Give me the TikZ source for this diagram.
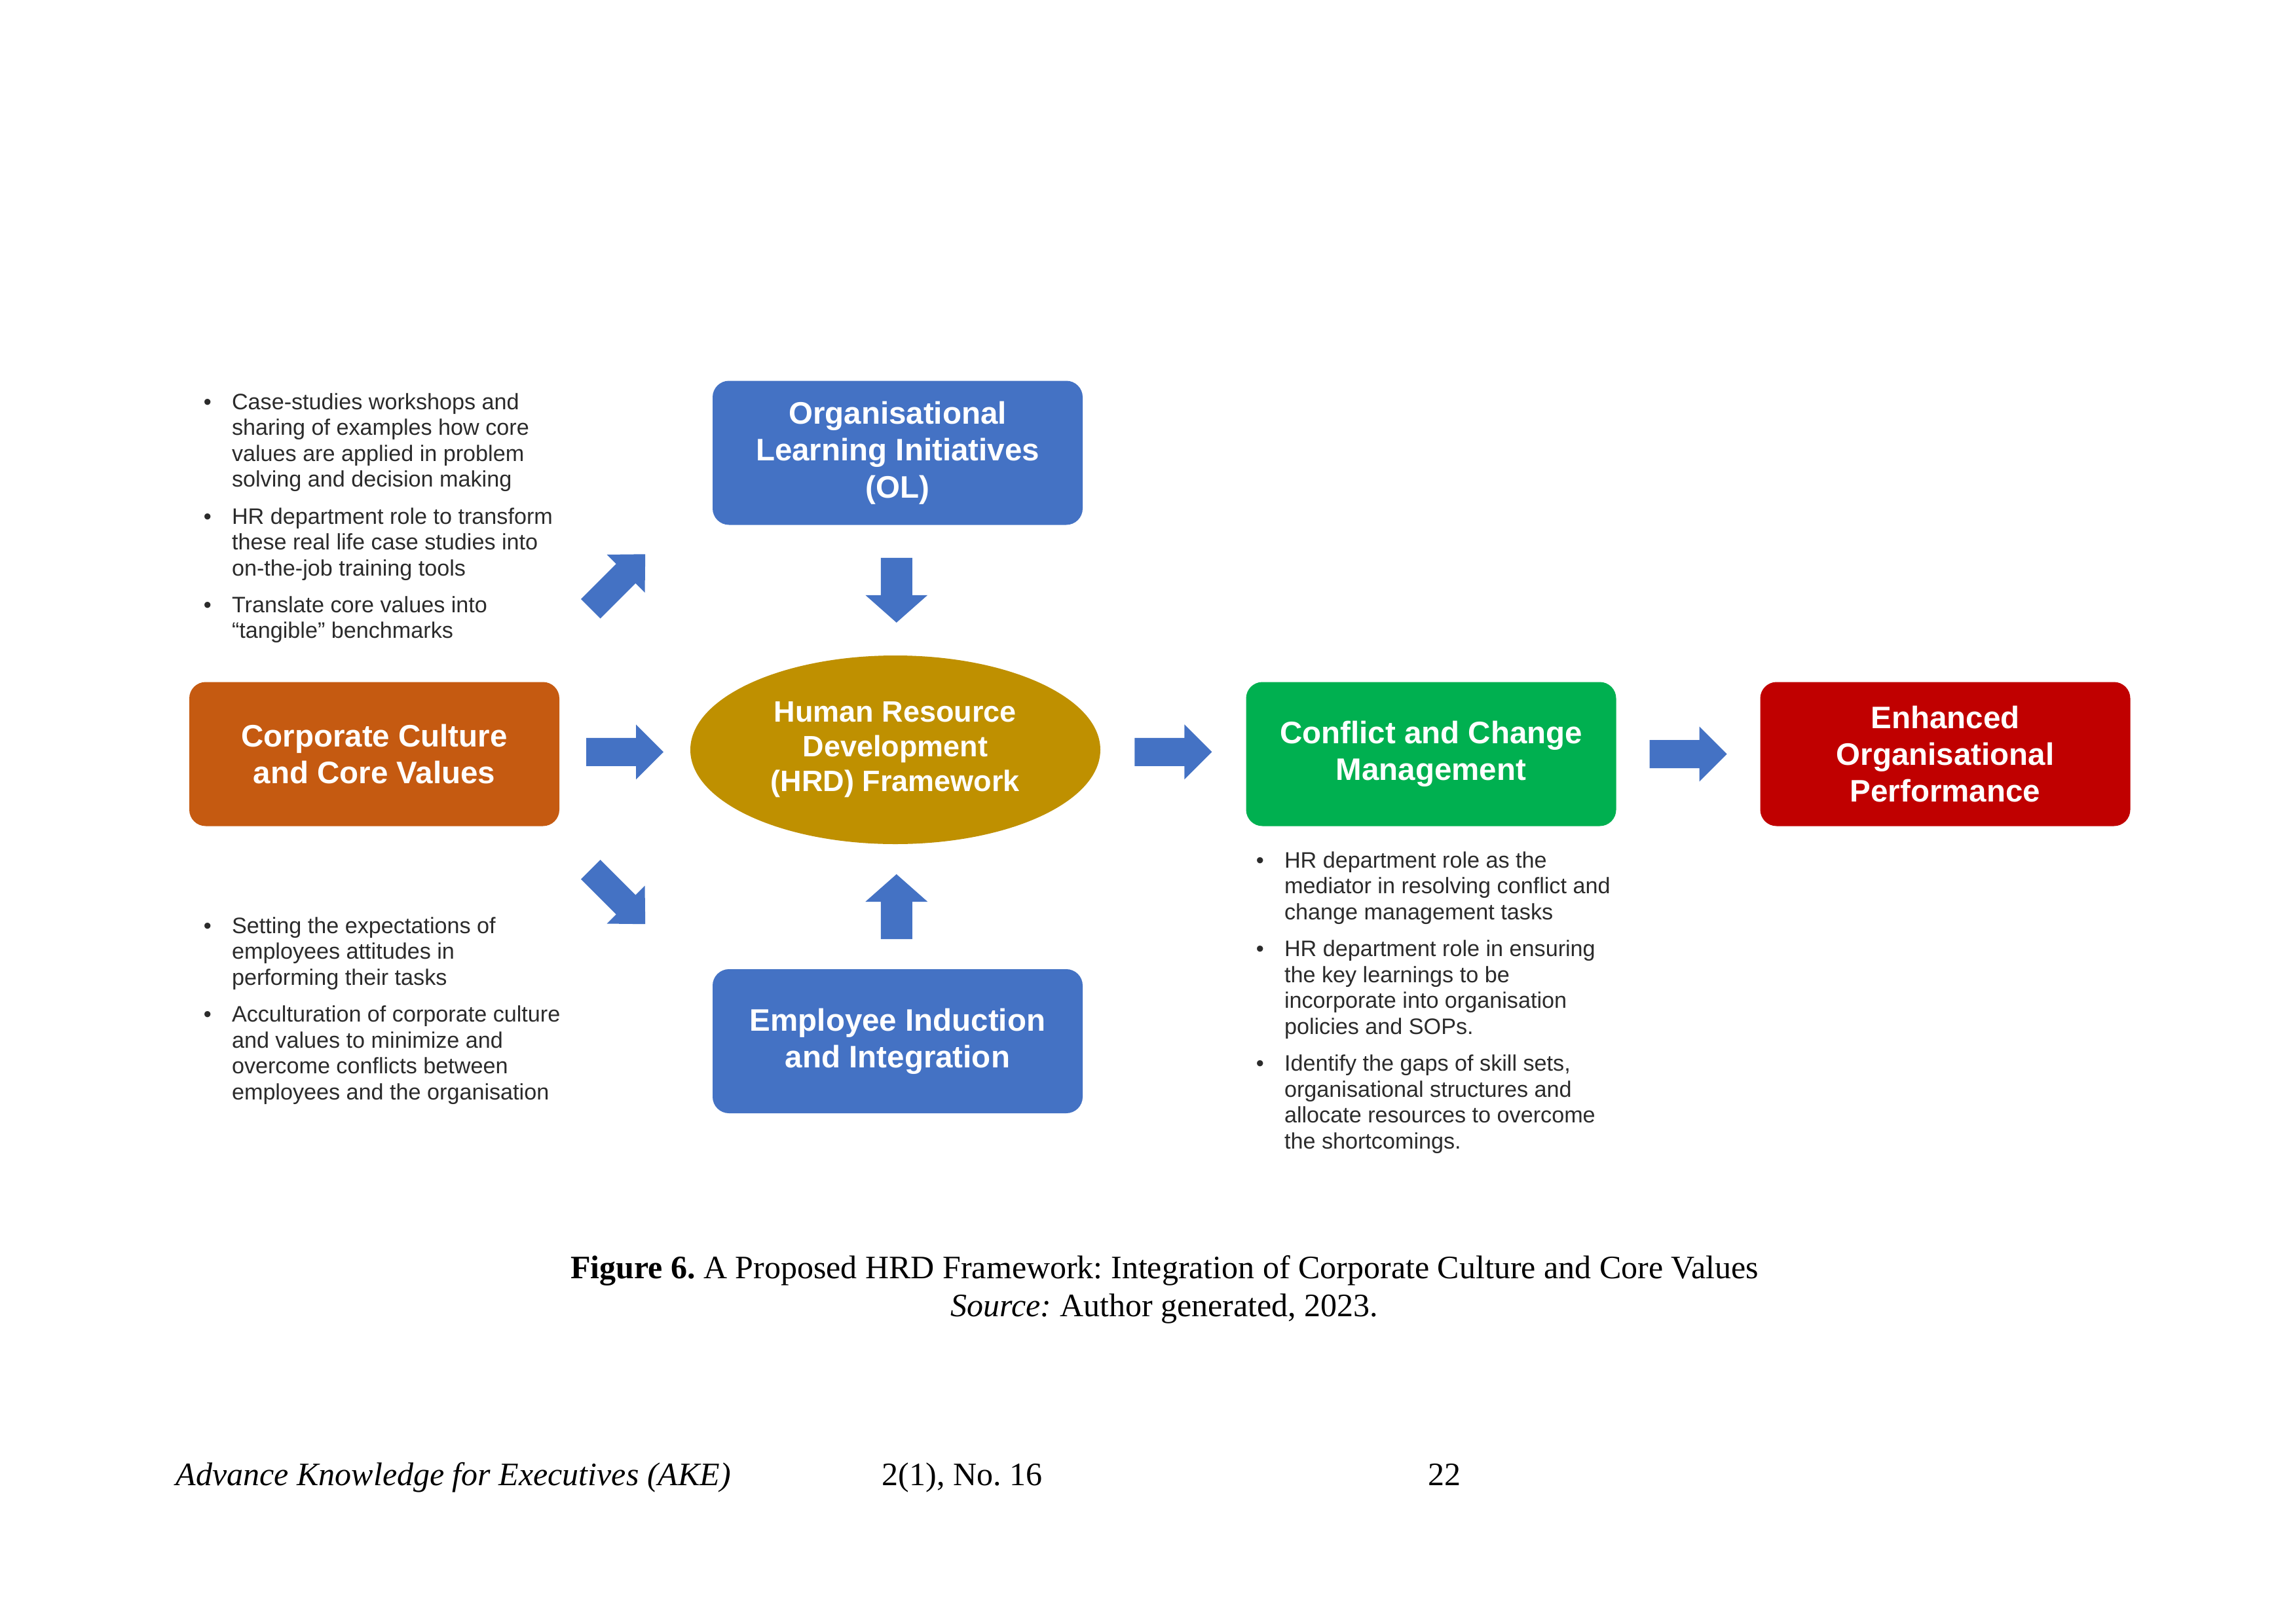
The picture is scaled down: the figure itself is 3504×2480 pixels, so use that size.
\documentclass[tikz,border=0pt]{standalone}
\usepackage{fontspec}
\setmainfont{Liberation Serif}
\newfontfamily\diagfont{Liberation Sans}
\usetikzlibrary{shapes.geometric,calc}
\frenchspacing
\definecolor{olblue}{HTML}{4472C4}
\definecolor{arrowblue}{HTML}{4472C4}
\definecolor{corporange}{HTML}{C55A11}
\definecolor{hrdgold}{HTML}{BF9000}
\definecolor{confgreen}{HTML}{00B050}
\definecolor{enhred}{HTML}{C00000}
\definecolor{bultext}{HTML}{2B2B2B}
\tikzset{
  box/.style={rounded corners=6pt, minimum width=565*0.24pt, minimum height=220*0.24pt,
    text=white, align=center, inner sep=0pt,
    font=\diagfont\bfseries\fontsize{11.4}{13.5}\selectfont},
  hrdnode/.style={ellipse, fill=hrdgold, minimum width=626*0.24pt, minimum height=288*0.24pt,
    text=white, align=center, inner sep=0pt,
    font=\diagfont\bfseries\fontsize{10.8}{12.7}\selectfont},
  bul/.style={inner sep=0pt, anchor=base west, text=bultext,
    font=\diagfont\fontsize{8.2}{9.5}\selectfont},
  captext/.style={inner sep=0pt, font=\fontsize{12}{14}\selectfont\frenchspacing},
  pics/barrow/.style n args={5}{code={
    \fill[arrowblue, rotate=#1]
      (-#2/2, -#4/2) -- (#2/2-#5, -#4/2) -- (#2/2-#5, -#3/2) -- (#2/2, 0)
      -- (#2/2-#5, #3/2) -- (#2/2-#5, #4/2) -- (-#2/2, #4/2) -- cycle;
  }}
}
\begin{document}
\begin{tikzpicture}[x=0.24pt, y=-0.24pt]
\useasboundingbox[fill=white] (0,0) rectangle (3504,2480);

% main nodes
\node[box, fill=corporange] (corp) at (571.5,1151.5) {Corporate Culture\\and Core Values};
\node[box, fill=olblue] (ol) at (1370.5,691.5) {Organisational\\Learning Initiatives\\(OL)};
\node[box, fill=olblue] (emp) at (1370.5,1590) {Employee Induction\\and Integration};
\node[hrdnode] (hrd) at (1367,1145) {Human Resource\\Development\\(HRD) Framework};
\node[box, fill=confgreen] (conf) at (2185,1151.5) {Conflict and Change\\Management};
\node[box, fill=enhred] (enh) at (2970,1151.5) {Enhanced\\Organisational\\Performance};

% block arrows
\pic (a1) at ($(corp.east)!0.5!(hrd.west)$) {barrow={0}{118}{84}{43}{42}};
\pic (a2) at ($(hrd.east)!0.5!(conf.west)$) {barrow={0}{118}{84}{43}{42}};
\pic (a3) at ($(conf.east)!0.5!(enh.west)$) {barrow={0}{118}{84}{43}{42}};
\pic (aol) at ($(ol.south)!0.5!(hrd.north)$) {barrow={-90}{99}{95}{48}{42}};
\pic (aemp) at ($(emp.north)!0.5!(hrd.south)$) {barrow={90}{99}{95}{48}{42}};
\coordinate (dup) at (943.5,888);
\coordinate (ddn) at (943.5,1369.5);
\pic (aup) at (dup) {barrow={45}{118}{82}{42}{42}};
\pic (adn) at (ddn) {barrow={-45}{118}{82}{42}{42}};

% bullet texts
\node[bul] (tl) at (310,625) {\begin{tabular}[t]{@{}l@{\hspace{7.5pt}}l@{}}
\textbullet & Case-studies workshops and\\
 & sharing of examples how core\\
 & values are applied in problem\\
 & solving and decision making\\[4pt]
\textbullet & HR department role to transform\\
 & these real life case studies into\\
 & on-the-job training tools\\[4pt]
\textbullet & Translate core values into\\
 & “tangible” benchmarks
\end{tabular}};

\node[bul] (bl) at (310,1425) {\begin{tabular}[t]{@{}l@{\hspace{7.5pt}}l@{}}
\textbullet & Setting the expectations of\\
 & employees attitudes in\\
 & performing their tasks\\[4pt]
\textbullet & Acculturation of corporate culture\\
 & and values to minimize and\\
 & overcome conflicts between\\
 & employees and the organisation
\end{tabular}};

\node[bul] (br) at (1917,1325) {\begin{tabular}[t]{@{}l@{\hspace{7.5pt}}l@{}}
\textbullet & HR department role as the\\
 & mediator in resolving conflict and\\
 & change management tasks\\[4pt]
\textbullet & HR department role in ensuring\\
 & the key learnings to be\\
 & incorporate into organisation\\
 & policies and SOPs.\\[4pt]
\textbullet & Identify the gaps of skill sets,\\
 & organisational structures and\\
 & allocate resources to overcome\\
 & the shortcomings.
\end{tabular}};

% caption and footer
\node[captext, anchor=base] (cap) at (1778,1952) {\textbf{Figure 6.} A Proposed HRD Framework: Integration of Corporate Culture and Core Values};
\node[captext, anchor=base] (src) at (1778,2010) {\textit{Source:} Author generated, 2023.};
\node[captext, anchor=base west] (f1) at (268,2268) {\textit{Advance Knowledge for Executives (AKE)}};
\node[captext, anchor=base west] (f2) at (1346,2268) {2(1), No. 16};
\node[captext, anchor=base west] (f3) at (2180,2268) {22};
\end{tikzpicture}
\end{document}
